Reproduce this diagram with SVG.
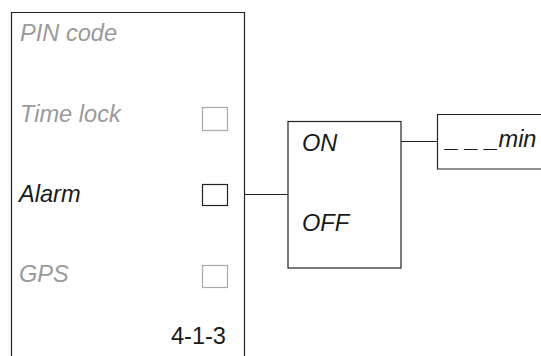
<svg xmlns="http://www.w3.org/2000/svg" width="541" height="356" viewBox="0 0 541 356">
<style>
.t{font-family:"Liberation Sans",Arial,sans-serif;font-size:23.6px;font-style:italic}
.g{fill:#9a9a9a}
.k{fill:#1a1a1a}
.box{fill:#fff;stroke:#222;stroke-width:1.2}
.cbg{fill:#fff;stroke:#aaa;stroke-width:1.2}
.cbk{fill:#fff;stroke:#222;stroke-width:1.2}
.ln{fill:none;stroke:#222;stroke-width:1.2}
</style>
<rect width="541" height="356" fill="#fff"/>
<g id="menu">
<path class="ln" d="M11.5,360 V12.5 H244.5 V360"/>
<text class="t g" x="20" y="41">PIN code</text>
<text class="t g" x="20" y="122">Time lock</text>
<rect class="cbg" x="202.5" y="107.5" width="25" height="23"/>
<text class="t k" x="19" y="202">Alarm</text>
<rect class="cbk" x="202.5" y="184.5" width="25" height="21"/>
<text class="t g" x="19" y="282">GPS</text>
<rect class="cbg" x="202.5" y="265.5" width="25" height="22"/>
<text class="k" x="226" y="344" text-anchor="end" style="font-family:'Liberation Sans',Arial,sans-serif;font-size:23.6px">4-1-3</text>
</g>
<g id="onoff">
<rect class="box" x="288" y="121.5" width="113" height="146.5"/>
<text class="t k" x="302" y="151">ON</text>
<text class="t k" x="302" y="231">OFF</text>
</g>
<g id="min">
<path class="ln" d="M545,114.5 H437.5 V169 H545"/>
<text class="t k" x="446" y="147">_ _ _min</text>
</g>
<g id="connectors">
<line class="ln" x1="244.5" y1="194.5" x2="288" y2="194.5"/>
<line class="ln" x1="401" y1="141.5" x2="437.5" y2="141.5"/>
</g>
</svg>
